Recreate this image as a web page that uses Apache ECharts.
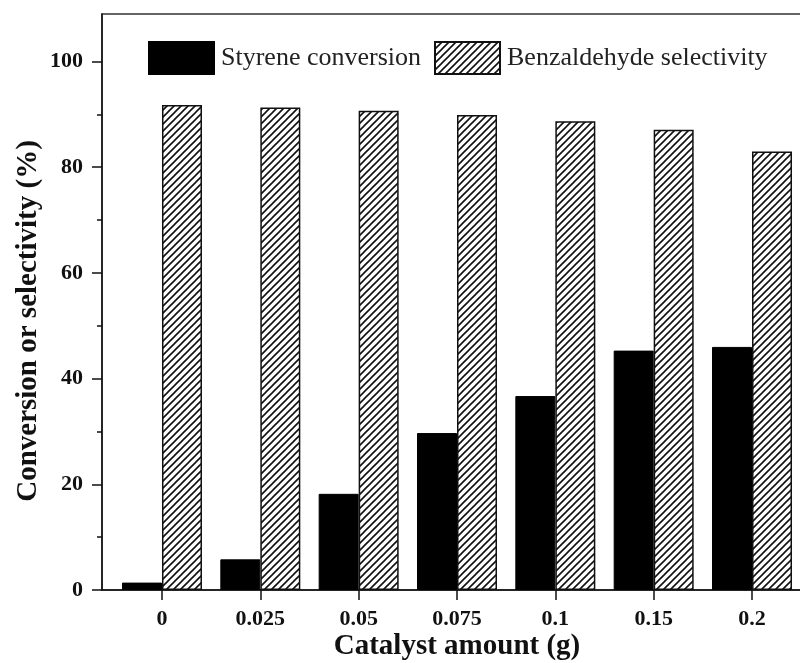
<!DOCTYPE html>
<html>
<head>
<meta charset="utf-8">
<script src="https://cdn.jsdelivr.net/npm/echarts@6/dist/echarts.min.js"></script>
<style>html,body{margin:0;padding:0;background:#fff;}#c{width:800px;height:663px;}</style>
</head>
<body>
<div id="c"></div>
<script>
var categories = ['0', '0.025', '0.05', '0.075', '0.1', '0.15', '0.2'];
var styreneConversion = [1.4, 5.8, 18.2, 29.7, 36.7, 45.3, 46.0];
var benzaldehydeSelectivity = [91.8, 91.3, 90.7, 89.9, 88.7, 87.1, 83.0];
var yMajorTicks = [0, 20, 40, 60, 80, 100];
var yMinorTicks = [10, 30, 50, 70, 90];
var seriesNames = ['Styrene conversion', 'Benzaldehyde selectivity'];

function hatch() {
  var s = 7;
  var c = document.createElement('canvas');
  c.width = s; c.height = s;
  var g = c.getContext('2d');
  g.fillStyle = '#fff'; g.fillRect(0, 0, s, s);
  g.strokeStyle = '#111'; g.lineWidth = 1.6;
  g.beginPath();
  g.moveTo(-1, s + 1); g.lineTo(s + 1, -1);
  g.moveTo(-1, 1); g.lineTo(1, -1);
  g.moveTo(s - 1, s + 1); g.lineTo(s + 1, s - 1);
  g.stroke();
  return c;
}
var idx = categories.map(function (_, i) { return i; });
var font = '"Liberation Serif", "Times New Roman", serif';
var chart = echarts.init(document.getElementById('c'), null, {renderer: 'canvas'});
chart.setOption({
  animation: false,
  backgroundColor: '#fff',
  textStyle: {fontFamily: font},
  legend: {
    left: 143, top: 36, itemWidth: 65, itemHeight: 32, itemGap: 13,
    icon: 'rect',
    textStyle: {fontFamily: font, fontSize: 26, color: '#222', padding: [0, 0, 0, 2]},
    data: seriesNames
  },
  grid: {left: 102, top: 14, width: 710, bottom: 73, show: true, borderColor: '#333', borderWidth: 1.5,
    containLabel: false, outerBoundsMode: 'none'},
  xAxis: {
    type: 'value', min: -0.61, max: 6.61,
    splitLine: {show: false},
    axisLine: {onZero: false, lineStyle: {color: '#111', width: 1.5}},
    axisTick: {customValues: idx, length: 10, lineStyle: {color: '#111', width: 1.5}},
    axisLabel: {customValues: idx, margin: 18, fontSize: 22, fontWeight: 'bold', color: '#111', fontFamily: font,
      formatter: function (v) { return categories[Math.round(v)]; }},
    name: 'Catalyst amount (g)', nameLocation: 'middle', nameGap: 42, nameMoveOverlap: false,
    nameTextStyle: {fontSize: 29, fontWeight: 'bold', color: '#111', fontFamily: font}
  },
  yAxis: [{
    type: 'value', min: 0, max: 109,
    splitLine: {show: false},
    axisLine: {show: true, onZero: false, lineStyle: {color: '#111', width: 1.5}},
    axisTick: {customValues: yMajorTicks, length: 10, lineStyle: {color: '#111', width: 1.5}},
    axisLabel: {customValues: yMajorTicks, margin: 19, fontSize: 22, fontWeight: 'bold', color: '#111', fontFamily: font},
    name: 'Conversion or selectivity (%)', nameLocation: 'middle', nameGap: 59, nameMoveOverlap: false,
    nameTextStyle: {fontSize: 29, fontWeight: 'bold', color: '#111', fontFamily: font, padding: [0, 38, 0, 0]}
  }, {
    type: 'value', min: 0, max: 109, position: 'left',
    splitLine: {show: false},
    axisLine: {show: false, onZero: false},
    axisTick: {customValues: yMinorTicks, length: 5, lineStyle: {color: '#111', width: 1.5}},
    axisLabel: {show: false}
  }],
  series: [{
    name: seriesNames[0], type: 'bar', barWidth: 40, barGap: '0%',
    itemStyle: {color: '#000', borderColor: '#000', borderWidth: 1},
    data: styreneConversion.map(function (v, i) { return [i, v]; })
  }, {
    name: seriesNames[1], type: 'bar', barWidth: 40, barGap: '0%',
    itemStyle: {color: {image: hatch(), repeat: 'repeat'}, borderColor: '#111', borderWidth: 1.5},
    data: benzaldehydeSelectivity.map(function (v, i) { return [i, v]; })
  }]
});
</script>
</body>
</html>
